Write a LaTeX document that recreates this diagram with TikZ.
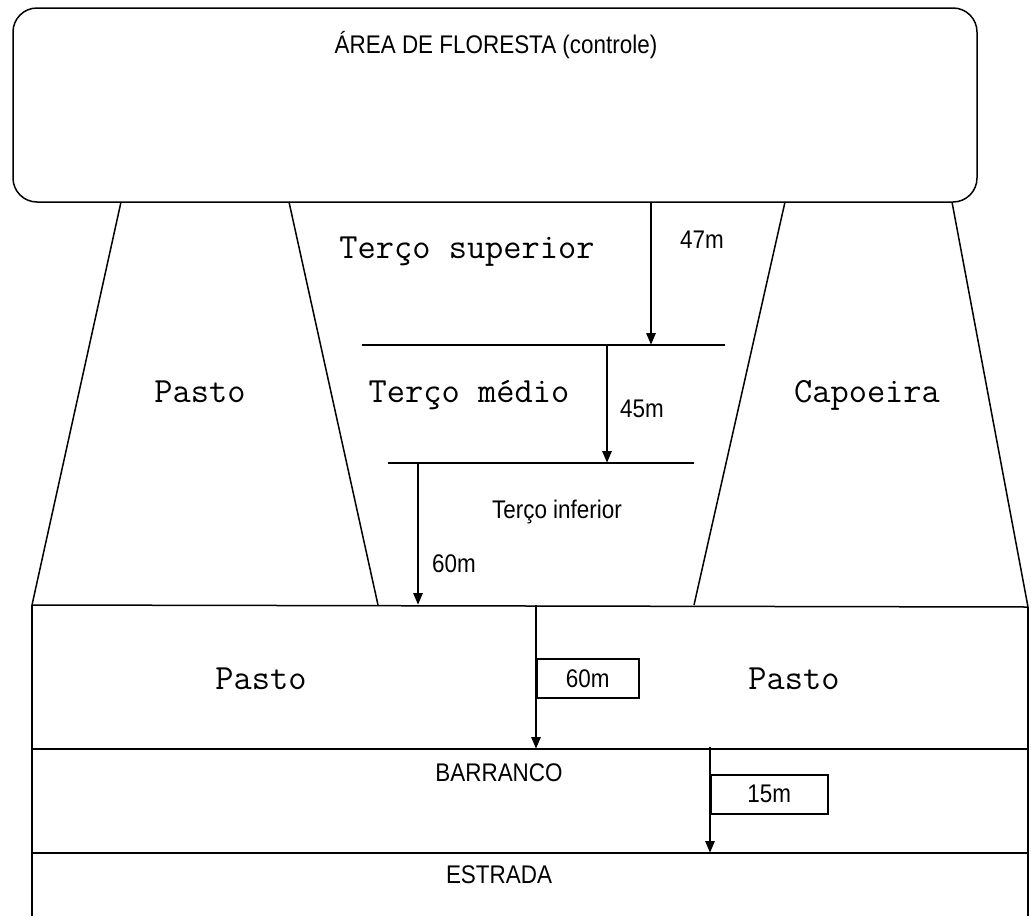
\documentclass[tikz,border=0pt]{standalone}
\usepackage{fontspec}
\newfontfamily\narrowfont[FakeStretch=0.88]{Liberation Sans}
\usetikzlibrary{arrows.meta}
\begin{document}
\begin{tikzpicture}[x=1pt,y=-1pt,line width=1.5pt,
  mono/.style={font=\ttfamily\fontsize{35.4}{35.4}\selectfont,anchor=base,inner sep=0pt},
  sans/.style={font=\narrowfont\fontsize{25.5}{25.5}\selectfont,anchor=base,inner sep=0pt},
  dim/.style={line width=2.8pt,-{Triangle[width=9pt,length=12pt]}},
  lenbox/.style={draw,line width=1.5pt,anchor=north west,minimum width=102pt,minimum height=39pt,inner sep=0pt,font=\narrowfont\fontsize{25.5}{25.5}\selectfont}]
\useasboundingbox (0,0) rectangle (1031,916);

% forest area
\draw[rounded corners=24pt] (13,8) rectangle (977,202);
\node[sans] (floresta) at (496,53) {ÁREA DE FLORESTA (controle)};

% side strips
\draw (121,202) -- (32,605);
\draw (289,202) -- (378,605);
\draw (785,202) -- (694,605);
\draw (952,202) -- (1028,607);

% thirds of the slope
\coordinate (med1) at (362,345);
\coordinate (med2) at (725,345);
\coordinate (inf1) at (388,463);
\coordinate (inf2) at (694,463);
\draw (med1) -- (med2);
\draw (inf1) -- (inf2);

% lower bands
\coordinate (base1) at (32,605);
\coordinate (base2) at (1028,607);
\coordinate (barr1) at (32,749);
\coordinate (barr2) at (1028,749);
\coordinate (estr1) at (32,853);
\coordinate (estr2) at (1028,853);
\draw (base1) -- (base2);
\draw (barr1) -- (barr2);
\draw (estr1) -- (estr2);
\draw (base1) -- (32,916);
\draw (base2) -- (1028,916);

% distances
\coordinate (a47s) at (651,202);
\coordinate (a47e) at (651,345);
\coordinate (a45s) at (607,345);
\coordinate (a45e) at (607,463);
\coordinate (a60s) at (418,463);
\coordinate (a60e) at (418,605);
\coordinate (b60s) at (536,605);
\coordinate (b60e) at (536,749);
\coordinate (b15s) at (710,747);
\coordinate (b15e) at (710,853);
\draw[dim] (a47s) -- (a47e);
\draw[dim] (a45s) -- (a45e);
\draw[dim] (a60s) -- (a60e);
\draw[dim] (b60s) -- (b60e);
\draw[dim] (b15s) -- (b15e);
\node[sans] (d47) at (702,248) {47m};
\node[sans] (d45) at (642,417) {45m};
\node[sans] (d60) at (454,572) {60m};
\node[lenbox] (box60) at (536,658) {60m};
\node[lenbox,minimum width=117pt] (box15) at (710,774) {15m};

% areas
\node[mono] (pastoL) at (200,402) {Pasto};
\node[mono] (tsup) at (467,258) {Terço superior};
\node[mono] (tmed) at (469,402) {Terço médio};
\node[sans] (tinf) at (557,518) {Terço inferior};
\node[mono] (capoeira) at (867,402) {Capoeira};
\node[mono] (pastoBL) at (261,689) {Pasto};
\node[mono] (pastoBR) at (794,689) {Pasto};
\node[sans] (barranco) at (499,781) {BARRANCO};
\node[sans] (estrada) at (499,883) {ESTRADA};
\end{tikzpicture}
\end{document}
